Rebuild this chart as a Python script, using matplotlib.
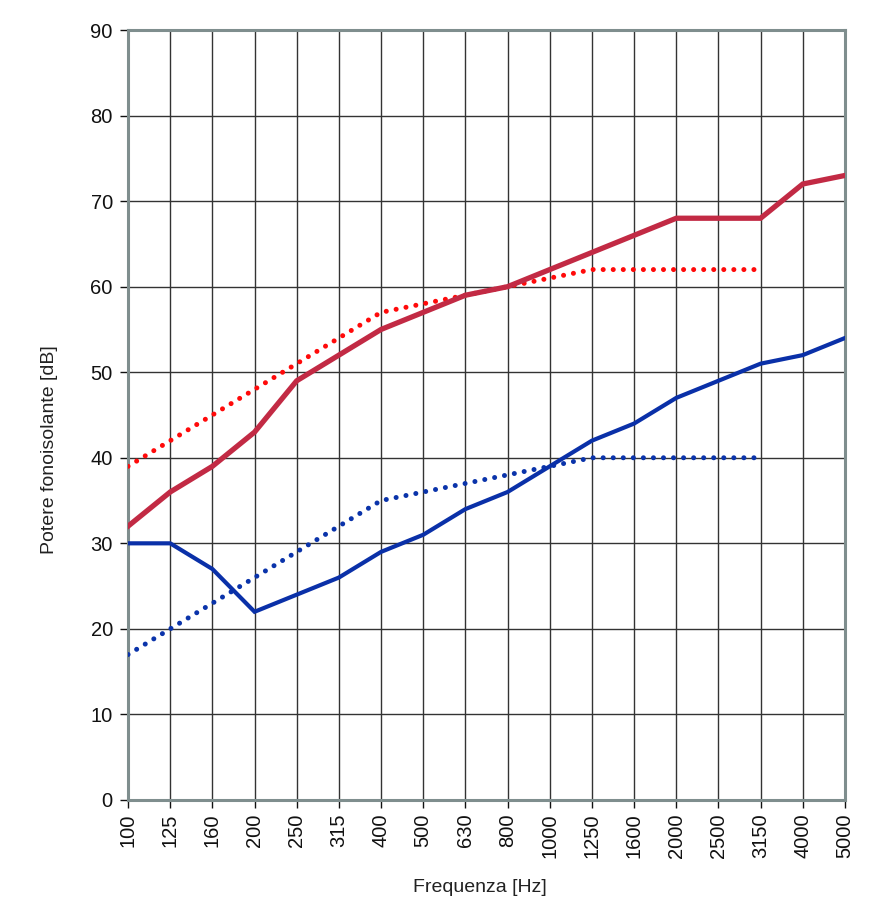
import matplotlib
matplotlib.use("Agg")
import matplotlib.pyplot as plt
import numpy as np

frequencies = ["100", "125", "160", "200", "250", "315", "400", "500", "630",
               "800", "1000", "1250", "1600", "2000", "2500", "3150", "4000", "5000"]

red_solid = [32, 36, 39, 43, 49, 52, 55, 57, 59, 60, 62, 64, 66, 68, 68, 68, 72, 73]
red_dotted = [39, 42, 45, 48, 51, 54, 57, 58, 59, 60, 61, 62, 62, 62, 62, 62]
blue_solid = [30, 30, 27, 22, 24, 26, 29, 31, 34, 36, 39, 42, 44, 47, 49, 51, 52, 54]
blue_dotted = [17, 20, 23, 26, 29, 32, 35, 36, 37, 38, 39, 40, 40, 40, 40, 40]

plt.rcParams["font.family"] = ["Liberation Sans", "DejaVu Sans"]

fig = plt.figure(figsize=(8.96, 9.21), dpi=100)
ax = fig.add_axes([0.1429, 0.1314, 0.8001, 0.836])

x = np.arange(len(frequencies))
dots = (0, (0.01, 2.0))

ax.plot(x[:len(red_dotted)], red_dotted, color="#ff0a0a", lw=3.6,
        linestyle=dots, dash_capstyle="round", zorder=3)
ax.plot(x[:len(blue_dotted)], blue_dotted, color="#0a33aa", lw=3.6,
        linestyle=dots, dash_capstyle="round", zorder=3)
ax.plot(x, red_solid, color="#c22a44", lw=3.8, solid_joinstyle="miter", zorder=4)
ax.plot(x, blue_solid, color="#0a30a8", lw=3.0, solid_joinstyle="miter", zorder=4)

ax.set_xlim(0, len(frequencies) - 1)
ax.set_ylim(0, 90)
ax.set_yticks(np.arange(0, 91, 10))
ax.set_xticks(x)
ax.set_xticklabels(frequencies, rotation=90)

ax.grid(True, color="#333333", lw=1.0)
ax.set_axisbelow(True)
for side in ["left", "right", "top", "bottom"]:
    ax.spines[side].set_color("#7f8e8e")
    ax.spines[side].set_linewidth(2.2)

ax.tick_params(axis="both", labelsize=14.5, colors="#111111", length=6,
               width=1.0, direction="out")
ax.tick_params(axis="x", pad=4)
ax.tick_params(axis="y", pad=5)

label_font = ["Liberation Sans Narrow", "Liberation Sans", "DejaVu Sans"]
ax.set_xlabel("Frequenza [Hz]", fontsize=14, family=label_font, color="#222222")
ax.set_ylabel("Potere fonoisolante [dB]", fontsize=14, family=label_font,
              color="#222222")
ax.xaxis.set_label_coords(0.491, -0.103)
ax.yaxis.set_label_coords(-0.098, 0.455)

fig.savefig("out.png", dpi=100)
